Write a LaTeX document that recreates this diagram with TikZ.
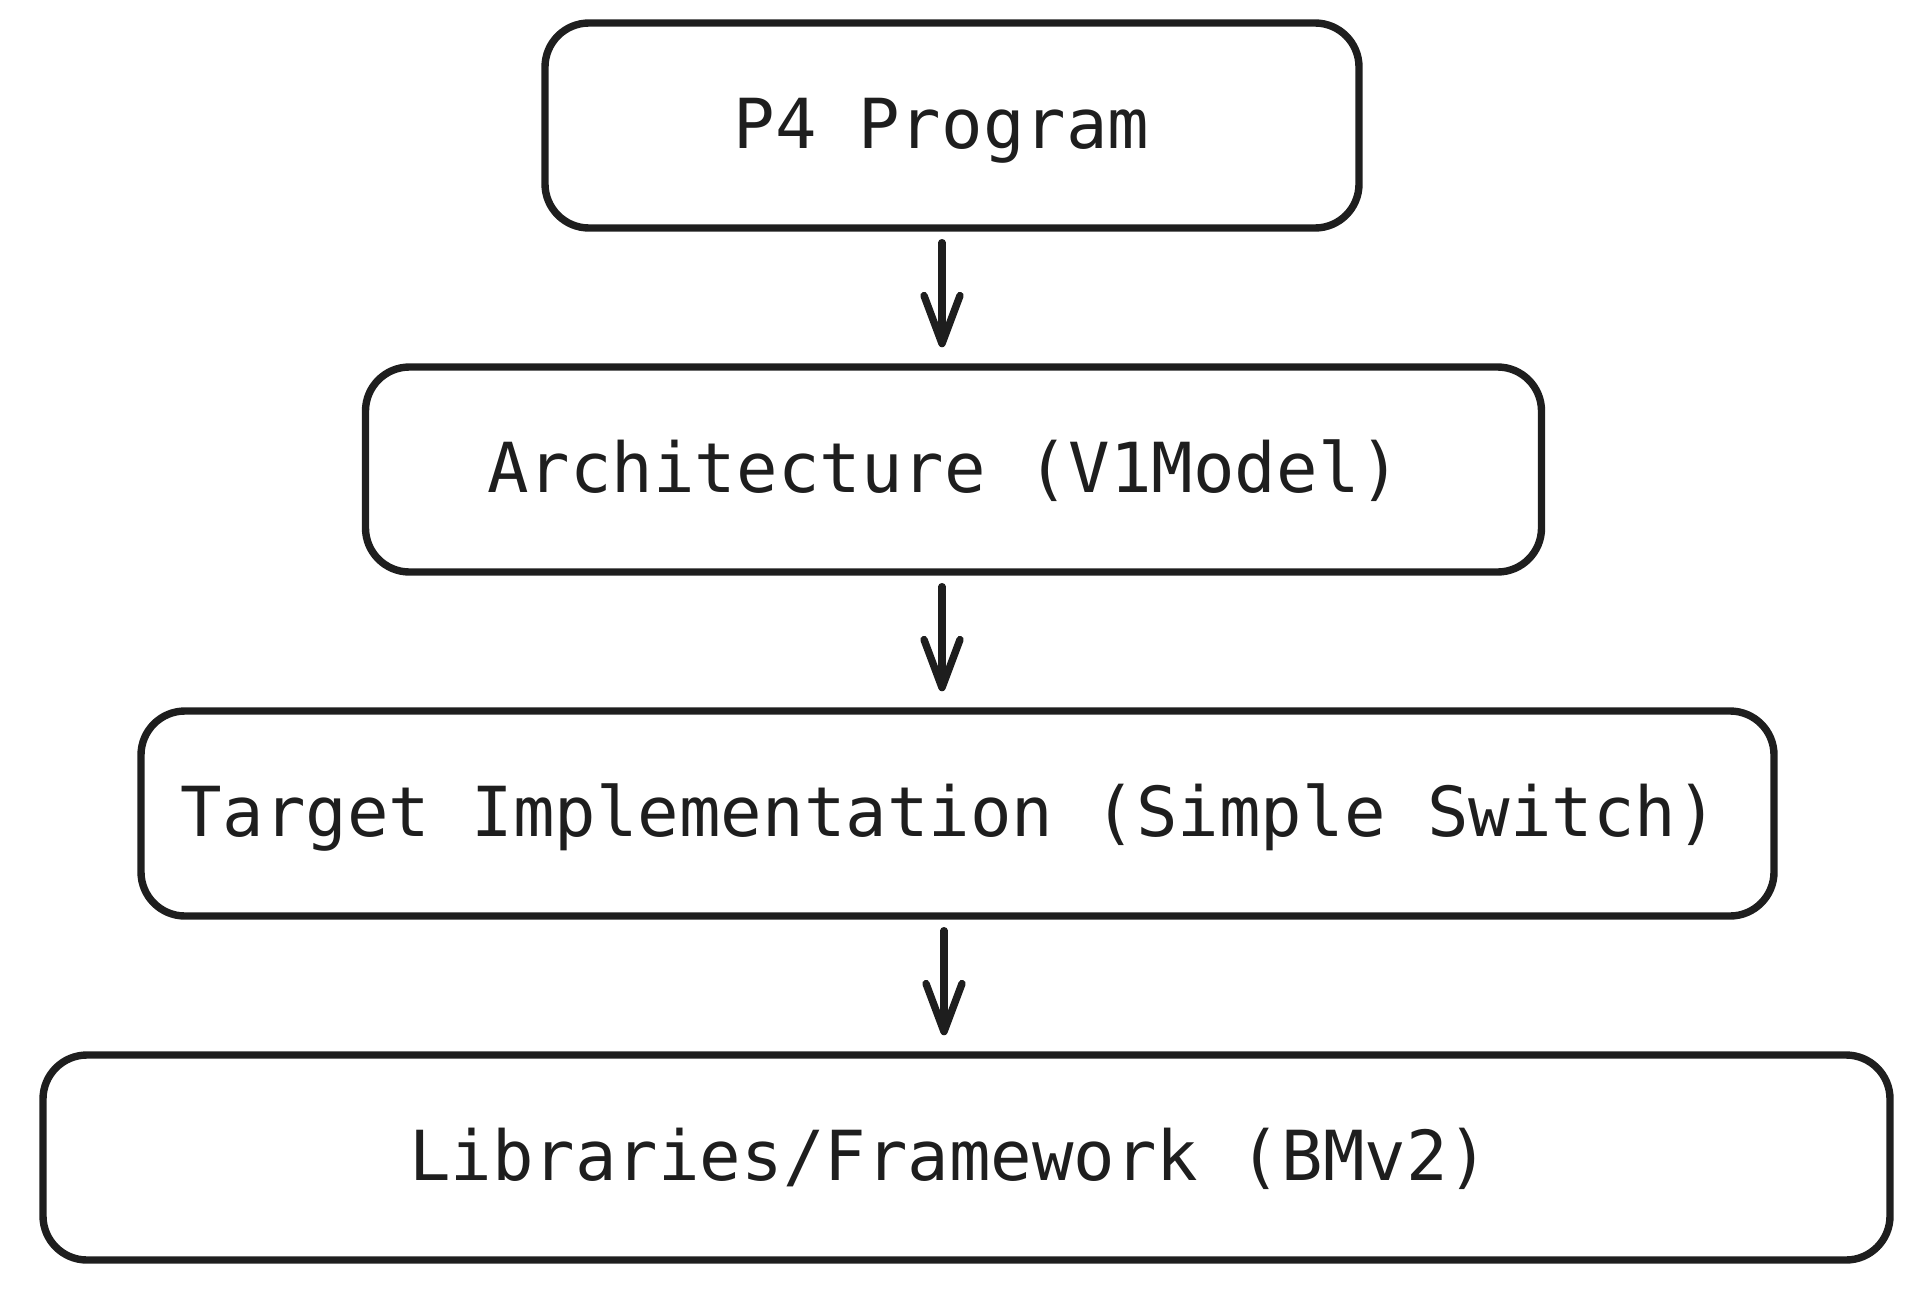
\documentclass[tikz,border=0pt]{standalone}
\usepackage{fontspec}
\setmonofont{DejaVu Sans Mono}
\usetikzlibrary{arrows.meta,positioning}
\definecolor{ink}{HTML}{1E1E1E}
\tikzstyle{block} = [rectangle, draw=ink, line width=3.7pt, rounded corners=22pt,
    text=ink, text centered, node distance=172pt, minimum height=102.5pt, inner sep=0pt,
    text height=30pt, text depth=7pt, font=\ttfamily\fontsize{34.5}{40}\selectfont]
\tikzstyle{line} = [draw=ink, line width=3.7pt, line cap=round,
    -{Straight Barb[length=24pt,width=18pt,round]}, shorten <=5.5pt, shorten >=8pt]

\begin{document}
\begin{tikzpicture}[x=0.5pt,y=-0.5pt]
    \useasboundingbox (0,0) rectangle (1927,1295);
    % Place nodes
    \node [block, minimum width=407pt] at (952,125.5) (program) {P4 Program\hspace*{10.5pt}};
    \node [block, below of=program, xshift=0.75pt, minimum width=588pt] (arch) {Architecture (V1Model)\hspace*{9.3pt}};
    \node [block, below of=arch, xshift=2pt, minimum width=816.5pt] (target) {Target Implementation (Simple Switch)\hspace*{8pt}};
    \node [block, below of=target, xshift=4.5pt, minimum width=923.5pt] (libs) {Libraries/Framework (BMv2)\hspace*{17.3pt}};

    % Draw edges
    \path [line] ([xshift=-5pt]program.south) -- ([xshift=-5pt]program.south |- arch.north);
    \path [line] ([xshift=-5pt]program.south |- arch.south) -- ([xshift=-5pt]program.south |- target.north);
    \path [line] ([xshift=-4pt]program.south |- target.south) -- ([xshift=-4pt]program.south |- libs.north);

\end{tikzpicture}
\end{document}
